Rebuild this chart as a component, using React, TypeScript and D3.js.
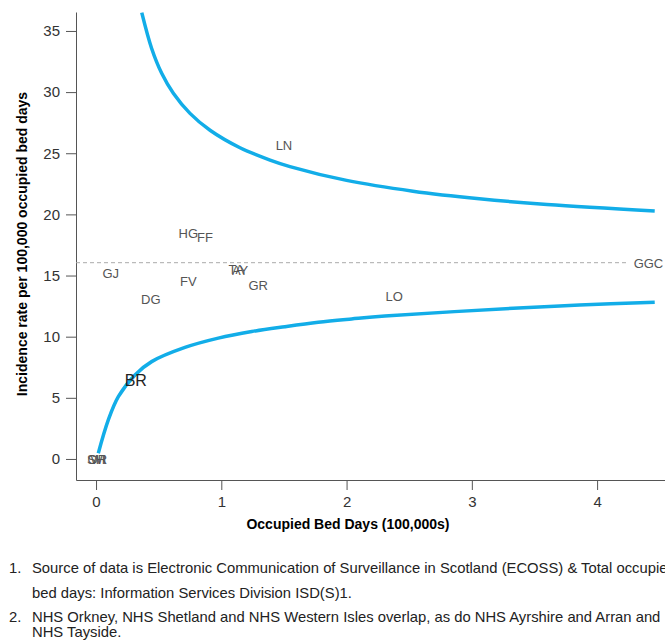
import { useEffect, useRef } from "react";
import * as d3 from "d3";

// health board codes, occupied bed days (100,000s) and incidence rate
const boardCodes = ["LN", "HG", "FF", "GJ", "FV", "DG", "TA", "AY", "GR", "LO", "GGC", "BR", "SH", "OR", "WI"];
const bedDays = [1.5, 0.737, 0.87, 0.117, 0.737, 0.437, 1.12, 1.15, 1.295, 2.38, 4.41, 0.317, 0.0, 0.01, 0.02];
const rates = [25.6, 18.45, 18.1, 15.2, 14.55, 13.08, 15.5, 15.45, 14.2, 13.3, 15.95, 6.46, 0, 0, 0];

// funnel limits
const upperX = [0.365, 0.444, 0.524, 0.617, 0.75, 0.91, 1.149, 1.389, 1.548, 2.0, 2.53, 3.06, 3.6, 4.46];
const upperY = [36.5, 33.57, 31.54, 29.91, 28.26, 26.88, 25.45, 24.44, 23.91, 22.78, 21.9, 21.28, 20.81, 20.28];
const lowerX = [0.018, 0.098, 0.178, 0.311, 0.444, 0.71, 0.976, 1.243, 1.508, 1.774, 2.04, 2.306, 3.33, 3.86, 4.46];
const lowerY = [0.47, 3.19, 5.09, 6.87, 7.96, 9.12, 9.88, 10.42, 10.82, 11.18, 11.45, 11.69, 12.32, 12.59, 12.81];

const meanRate = 16.05;
const meanLineEnd = 4.25;

const xTicks = [0, 1, 2, 3, 4];
const yTicks = [0, 5, 10, 15, 20, 25, 30, 35];

const xAxTitle = "Occupied Bed Days (100,000s)";
const yAxTitle = "Incidence rate per 100,000 occupied bed days";
const notes = [
  { num: "1.", lines: ["Source of data is Electronic Communication of Surveillance in Scotland (ECOSS) & Total occupied", "bed days: Information Services Division ISD(S)1."] },
  { num: "2.", lines: ["NHS Orkney, NHS Shetland and NHS Western Isles overlap, as do NHS Ayrshire and Arran and", "NHS Tayside."] },
];

const W = 665;
const H = 644;
const FONT = "'Liberation Sans', Arial, Helvetica, sans-serif";

const App = () => {
  const svgRef = useRef<SVGSVGElement>(null);

  useEffect(() => {
    document.body.style.margin = "0";
    const svg = d3.select(svgRef.current);
    svg.selectAll("*").remove();

    const xScale = d3.scaleLinear().domain([-0.16, 4.55]).range([76, 666]);
    const yScale = d3.scaleLinear().domain([-1.72, 36.55]).range([480, 12]);

    // axes
    const xAxis = svg
      .append("g")
      .attr("transform", `translate(0, ${yScale.range()[0]})`)
      .call(d3.axisBottom(xScale).tickValues(xTicks).tickSize(10).tickSizeOuter(0).tickPadding(6).tickFormat(d3.format("d")));
    const yAxis = svg
      .append("g")
      .attr("transform", `translate(${xScale.range()[0]}, 0)`)
      .call(d3.axisLeft(yScale).tickValues(yTicks).tickSize(10).tickSizeOuter(0).tickPadding(6).tickFormat(d3.format("d")));
    [xAxis, yAxis].forEach((g) => {
      g.selectAll("path, line").attr("stroke", "#555");
      g.selectAll("text").attr("fill", "#333").style("font-family", FONT).style("font-size", "15px");
    });

    // axis titles
    svg
      .append("text")
      .attr("x", 348)
      .attr("y", 529)
      .attr("text-anchor", "middle")
      .style("font-family", FONT)
      .style("font-weight", "bold")
      .style("font-size", "14px")
      .text(xAxTitle);
    svg
      .append("text")
      .attr("transform", "rotate(-90)")
      .attr("x", -244)
      .attr("y", 27)
      .attr("text-anchor", "middle")
      .style("font-family", FONT)
      .style("font-weight", "bold")
      .style("font-size", "14px")
      .text(yAxTitle);

    // mean line
    svg
      .append("line")
      .attr("x1", xScale.range()[0])
      .attr("x2", xScale(meanLineEnd))
      .attr("y1", yScale(meanRate))
      .attr("y2", yScale(meanRate))
      .attr("stroke", "#aaa")
      .attr("stroke-width", 1)
      .attr("stroke-dasharray", "4,3");

    // funnel limits
    const line = d3
      .line<number>()
      .x((d) => xScale(d))
      .curve(d3.curveCatmullRom.alpha(0.5));
    svg
      .append("path")
      .attr("d", line.y((d, i) => yScale(upperY[i]))(upperX))
      .attr("fill", "none")
      .attr("stroke", "#12ade8")
      .attr("stroke-width", 3.5);
    svg
      .append("path")
      .attr("d", line.y((d, i) => yScale(lowerY[i]))(lowerX))
      .attr("fill", "none")
      .attr("stroke", "#12ade8")
      .attr("stroke-width", 3.5);

    // board labels
    svg
      .selectAll("text.board")
      .data(boardCodes)
      .enter()
      .append("text")
      .attr("class", "board")
      .attr("x", (d, i) => xScale(bedDays[i]))
      .attr("y", (d, i) => yScale(rates[i]))
      .attr("dy", "0.35em")
      .attr("text-anchor", "middle")
      .style("font-family", FONT)
      .style("font-size", (d) => (d === "BR" ? "16px" : "13px"))
      .attr("fill", (d) => (d === "BR" ? "#222" : "#555"))
      .text((d) => d);

    // footnotes
    const notesG = svg.append("g").style("font-family", FONT).style("font-size", "14.8px").attr("fill", "#222");
    const lineY = [[573, 598], [622, 637]];
    notes.forEach((n, i) => {
      notesG.append("text").attr("x", 9).attr("y", lineY[i][0]).text(n.num);
      n.lines.forEach((t, j) => {
        notesG.append("text").attr("x", 32).attr("y", lineY[i][j]).text(t);
      });
    });
  }, []);

  return <svg ref={svgRef} width={W} height={H} style={{ display: "block", background: "#fff" }}></svg>;
};

export default App;
